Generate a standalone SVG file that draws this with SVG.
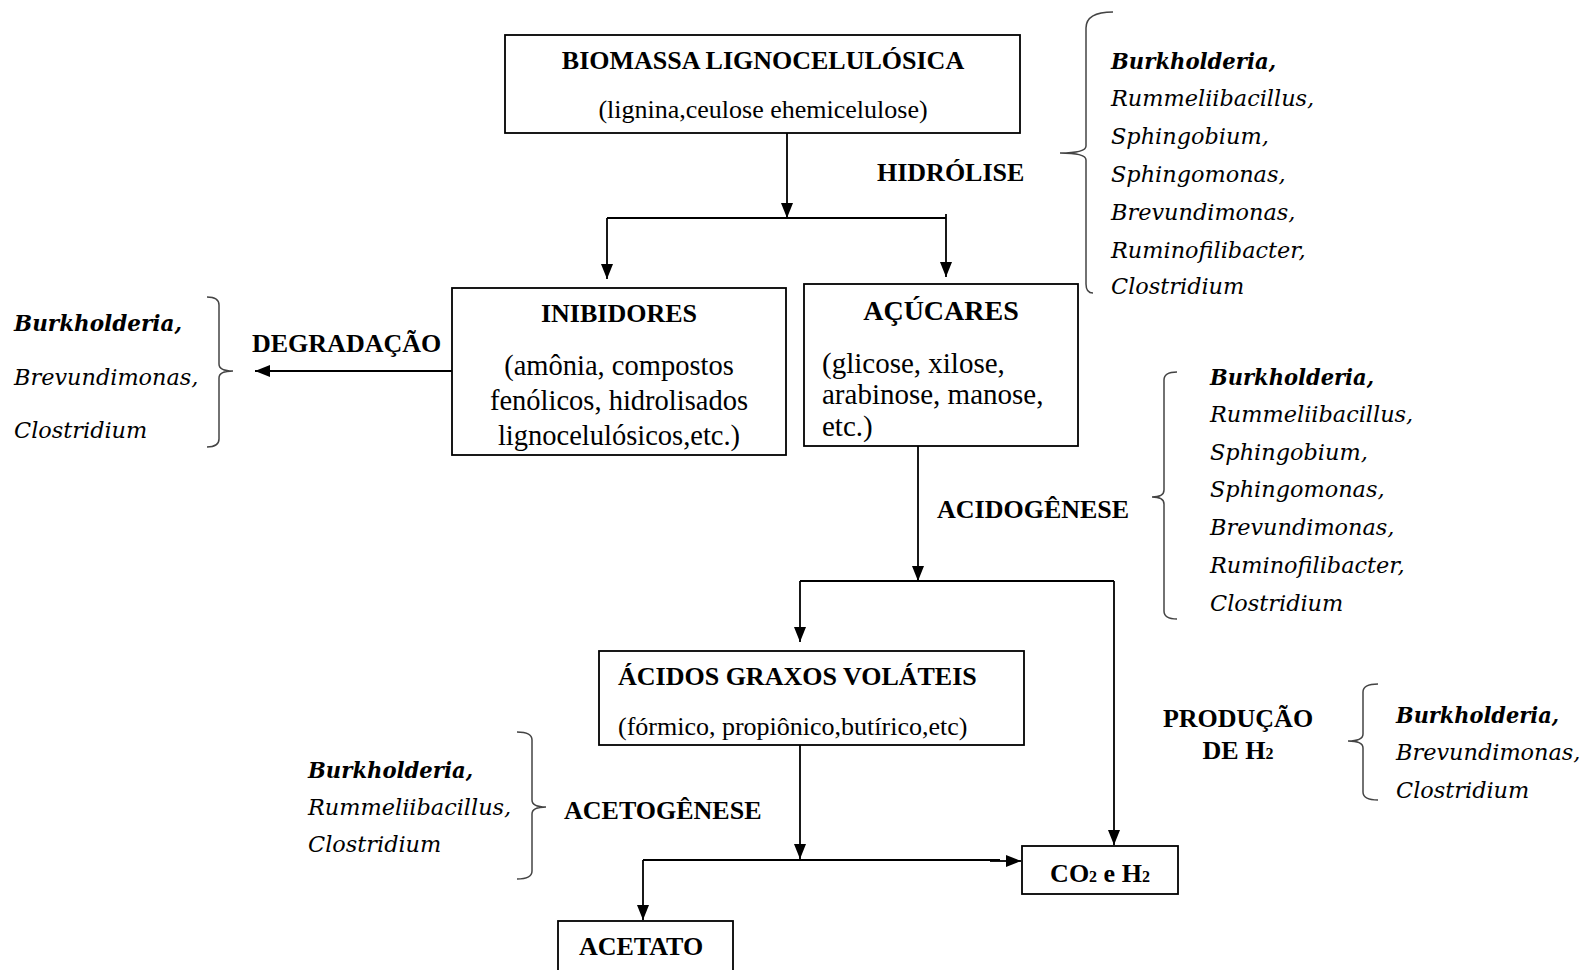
<svg xmlns="http://www.w3.org/2000/svg" width="1585" height="970" viewBox="0 0 1585 970">
<defs>
<marker id="ah" markerUnits="userSpaceOnUse" markerWidth="15" markerHeight="12" viewBox="0 0 15 12" refX="15" refY="6" orient="auto">
<path d="M0,0 L15,6 L0,12 z" fill="#000"/>
</marker>
</defs>
<style>
.box{fill:#fff;stroke:#000;stroke-width:1.8}
.ln{fill:none;stroke:#000;stroke-width:1.8}
.arr{fill:none;stroke:#000;stroke-width:1.8;marker-end:url(#ah)}
.br{fill:none;stroke:#444;stroke-width:1.5}
.hb{font-family:"Liberation Serif","Times New Roman",serif;font-weight:bold;font-size:26px;fill:#000}
.rg{font-family:"Liberation Serif","Times New Roman",serif;font-size:26px;fill:#000}
.sp{font-family:"DejaVu Serif",serif;font-style:italic;font-size:22.4px;fill:#000}
.spb{font-family:"DejaVu Serif",serif;font-style:italic;font-weight:bold;font-size:22.4px;fill:#000}
</style>

<g id="connectors">
<path class="arr" d="M787,133 V218"/>
<path class="ln" d="M607,218 H946"/>
<path class="arr" d="M607,218 V279"/>
<path class="arr" d="M946,214 V277"/>
<path class="arr" d="M452,371 H255"/>
<path class="arr" d="M918,446 V581"/>
<path class="ln" d="M800,581 H1114"/>
<path class="arr" d="M800,581 V642"/>
<path class="arr" d="M1114,581 V845"/>
<path class="arr" d="M800,745 V859"/>
<path class="ln" d="M643,860 H1000"/>
<path class="arr" d="M990,861 H1021"/>
<path class="arr" d="M643,860 V920"/>
</g>

<g id="biomassa">
<rect class="box" x="505" y="35" width="515" height="98"/>
<text class="hb" x="763" y="69" text-anchor="middle">BIOMASSA LIGNOCELULÓSICA</text>
<text class="rg" x="763" y="118" text-anchor="middle">(lignina,ceulose ehemicelulose)</text>
</g>

<g id="hidrolise">
<text class="hb" x="877" y="181">HIDRÓLISE</text>
<path class="br" d="M1113,12 Q1086,12 1086,28 L1086,146 Q1086,153 1060,153 Q1086,153 1086,160 L1086,284 Q1086,293 1093,293"/>
<text class="spb" x="1111" y="69" textLength="165" lengthAdjust="spacingAndGlyphs">Burkholderia,</text>
<text class="sp" x="1111" y="106">Rummeliibacillus,</text>
<text class="sp" x="1111" y="144">Sphingobium,</text>
<text class="sp" x="1111" y="182">Sphingomonas,</text>
<text class="sp" x="1111" y="220">Brevundimonas,</text>
<text class="sp" x="1111" y="258">Ruminofilibacter,</text>
<text class="sp" x="1111" y="294">Clostridium</text>
</g>

<g id="inibidores">
<rect class="box" x="452" y="288" width="334" height="167"/>
<text class="hb" x="619" y="322" text-anchor="middle">INIBIDORES</text>
<text class="rg" x="619" y="375" text-anchor="middle" style="font-size:28.5px">(amônia, compostos</text>
<text class="rg" x="619" y="410" text-anchor="middle" style="font-size:28.5px">fenólicos, hidrolisados</text>
<text class="rg" x="619" y="445" text-anchor="middle" style="font-size:28.5px">lignocelulósicos,etc.)</text>
</g>

<g id="acucares">
<rect class="box" x="804" y="284" width="274" height="162"/>
<text class="hb" x="941" y="320" text-anchor="middle" style="font-size:28px">AÇÚCARES</text>
<text class="rg" x="822" y="373" style="font-size:29px">(glicose, xilose,</text>
<text class="rg" x="822" y="404" style="font-size:29px">arabinose, manose,</text>
<text class="rg" x="822" y="436" style="font-size:29px">etc.)</text>
</g>

<g id="degradacao">
<text class="hb" x="252" y="352">DEGRADAÇÃO</text>
<path class="br" d="M207,297 Q219,297 219,305 L219,364 Q219,371 233,371 Q219,371 219,378 L219,439 Q219,447 207,447"/>
<text class="spb" x="14" y="331" textLength="168" lengthAdjust="spacingAndGlyphs">Burkholderia,</text>
<text class="sp" x="14" y="385">Brevundimonas,</text>
<text class="sp" x="14" y="438">Clostridium</text>
</g>

<g id="acidogenese">
<text class="hb" x="937" y="518">ACIDOGÊNESE</text>
<path class="br" d="M1177,372 Q1164,372 1164,380 L1164,490 Q1164,497 1152,497 Q1164,497 1164,504 L1164,611 Q1164,619 1177,619"/>
<text class="spb" x="1210" y="385" textLength="164" lengthAdjust="spacingAndGlyphs">Burkholderia,</text>
<text class="sp" x="1210" y="422">Rummeliibacillus,</text>
<text class="sp" x="1210" y="460">Sphingobium,</text>
<text class="sp" x="1210" y="497">Sphingomonas,</text>
<text class="sp" x="1210" y="535">Brevundimonas,</text>
<text class="sp" x="1210" y="573">Ruminofilibacter,</text>
<text class="sp" x="1210" y="611">Clostridium</text>
</g>

<g id="acidos">
<rect class="box" x="599" y="651" width="425" height="94"/>
<text class="hb" x="618" y="685">ÁCIDOS GRAXOS VOLÁTEIS</text>
<text class="rg" x="618" y="735">(fórmico, propiônico,butírico,etc)</text>
</g>

<g id="acetogenese">
<text class="hb" x="564" y="819">ACETOGÊNESE</text>
<path class="br" d="M517,732 Q532,732 532,740 L532,800 Q532,807 546,807 Q532,807 532,814 L532,871 Q532,879 517,879"/>
<text class="spb" x="308" y="778" textLength="165" lengthAdjust="spacingAndGlyphs">Burkholderia,</text>
<text class="sp" x="308" y="815">Rummeliibacillus,</text>
<text class="sp" x="308" y="852">Clostridium</text>
</g>

<g id="producao">
<text class="hb" x="1238" y="727" text-anchor="middle">PRODUÇÃO</text>
<text class="hb" x="1238" y="759" text-anchor="middle">DE H<tspan style="font-size:16px">2</tspan></text>
<path class="br" d="M1378,684 Q1363,684 1363,692 L1363,734 Q1363,741 1348,741 Q1363,741 1363,748 L1363,792 Q1363,800 1378,800"/>
<text class="spb" x="1396" y="723" textLength="163" lengthAdjust="spacingAndGlyphs">Burkholderia,</text>
<text class="sp" x="1396" y="760">Brevundimonas,</text>
<text class="sp" x="1396" y="798">Clostridium</text>
</g>

<g id="co2h2">
<rect class="box" x="1022" y="846" width="156" height="48"/>
<text class="hb" x="1100" y="882" text-anchor="middle">CO<tspan style="font-size:16px">2</tspan> e H<tspan style="font-size:16px">2</tspan></text>
</g>

<g id="acetato">
<rect class="box" x="558" y="921" width="175" height="70"/>
<text class="hb" x="641" y="955" text-anchor="middle">ACETATO</text>
</g>
</svg>
